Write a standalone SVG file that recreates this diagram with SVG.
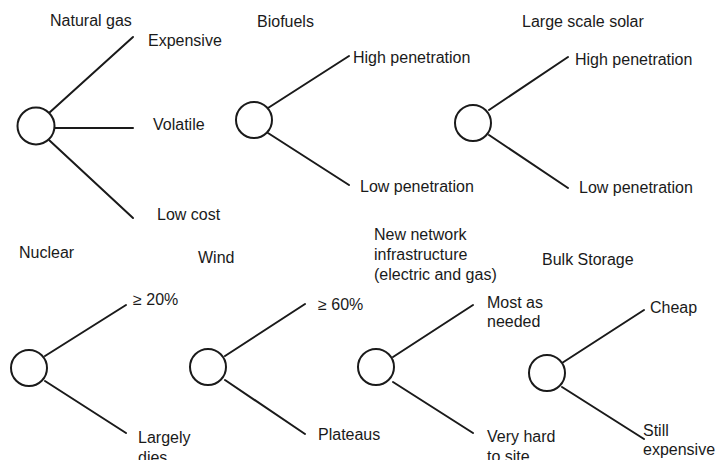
<svg xmlns="http://www.w3.org/2000/svg" width="717" height="460" viewBox="0 0 717 460">
<style>
text{font-family:"Liberation Sans",Arial,sans-serif;font-size:16px;fill:#1a1a1a}
.node circle{fill:#fff;stroke:#1a1a1a;stroke-width:2}
.edges line{stroke:#1a1a1a;stroke-width:2;stroke-linecap:round}
</style>
<rect width="717" height="460" fill="#fff"/>
<g class="edges" id="connectors">
<line x1="49" y1="113" x2="133" y2="37"/>
<line x1="55" y1="128" x2="133" y2="128"/>
<line x1="49" y1="140" x2="133" y2="218"/>
<line x1="268" y1="108" x2="349" y2="56"/>
<line x1="268" y1="133" x2="349" y2="185"/>
<line x1="489" y1="110" x2="568" y2="57"/>
<line x1="489" y1="135" x2="568" y2="188"/>
<line x1="45" y1="356" x2="126" y2="305"/>
<line x1="45" y1="381" x2="126" y2="433"/>
<line x1="225" y1="356" x2="305" y2="304"/>
<line x1="225" y1="380" x2="305" y2="434"/>
<line x1="393" y1="357" x2="473" y2="305"/>
<line x1="393" y1="382" x2="473" y2="433"/>
<line x1="562" y1="363" x2="644" y2="310"/>
<line x1="562" y1="387" x2="644" y2="439"/>
</g>
<g class="node" id="natural-gas">
<circle cx="36" cy="126" r="18.5"/>
<text x="50" y="26">Natural gas</text>
<text x="148" y="46">Expensive</text>
<text x="153" y="130">Volatile</text>
<text x="157" y="220">Low cost</text>
</g>
<g class="node" id="biofuels">
<circle cx="254" cy="120" r="18"/>
<text x="257" y="27">Biofuels</text>
<text x="353" y="63">High penetration</text>
<text x="360" y="192">Low penetration</text>
</g>
<g class="node" id="solar">
<circle cx="473" cy="123" r="18"/>
<text x="522" y="27">Large scale solar</text>
<text x="575" y="65">High penetration</text>
<text x="579" y="193">Low penetration</text>
</g>
<g class="node" id="nuclear">
<circle cx="29" cy="368" r="18"/>
<text x="19" y="258">Nuclear</text>
<text x="133" y="305">≥ 20%</text>
<text x="138" y="443">Largely</text>
<text x="138" y="463">dies</text>
</g>
<g class="node" id="wind">
<circle cx="208" cy="367" r="18"/>
<text x="198" y="263">Wind</text>
<text x="318" y="310">≥ 60%</text>
<text x="318" y="440">Plateaus</text>
</g>
<g class="node" id="network">
<circle cx="376" cy="367" r="18"/>
<text x="374" y="240">New network</text>
<text x="374" y="260">infrastructure</text>
<text x="374" y="280">(electric and gas)</text>
<text x="487" y="308">Most as</text>
<text x="487" y="327">needed</text>
<text x="487" y="442">Very hard</text>
<text x="487" y="462">to site</text>
</g>
<g class="node" id="bulk-storage">
<circle cx="547" cy="373" r="18"/>
<text x="542" y="265">Bulk Storage</text>
<text x="650" y="313">Cheap</text>
<text x="643" y="436">Still</text>
<text x="643" y="455">expensive</text>
</g>
</svg>
